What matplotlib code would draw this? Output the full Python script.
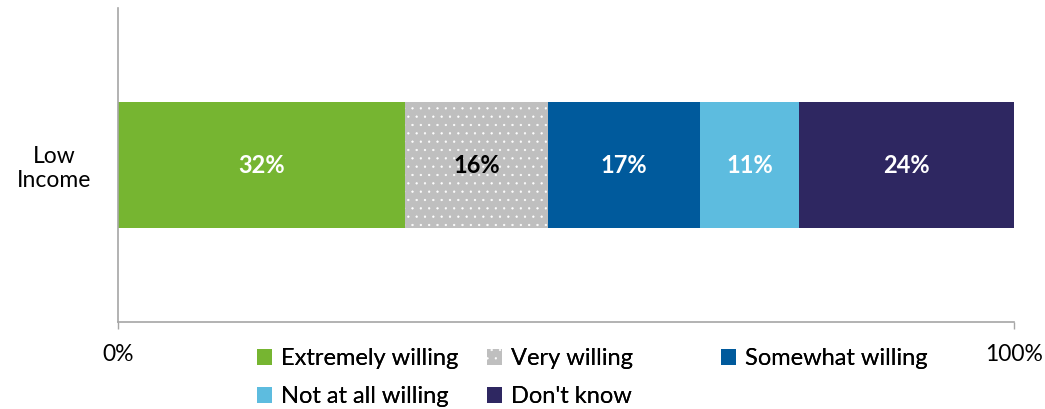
import numpy as np
import matplotlib
matplotlib.use("Agg")
import matplotlib.pyplot as plt
from matplotlib.patches import Patch

plt.rcParams['font.family'] = ['Lato', 'DejaVu Sans']
plt.rcParams['hatch.linewidth'] = 0.4

# survey answers for one income group
group = "Low\nIncome"
answers = ["Extremely willing", "Very willing", "Somewhat willing",
           "Not at all willing", "Don't know"]
shares = [32, 16, 17, 11, 24]
colors = ["#76B531", "#BFBFBF", "#005A9C", "#5DBCDF", "#2E2761"]
text_colors = ["white", "black", "white", "white", "white"]
hatches = [None, "..", None, None, None]
x_ticks = [0, 100]
x_tick_labels = ["0%", "100%"]

fig = plt.figure(figsize=(10.45, 4.09), dpi=100)
ax = fig.add_axes([0.1129, 0.2127, 0.8574, 0.7677])

left = 0
handles = []
for share, col, tcol, hat, name in zip(shares, colors, text_colors, hatches, answers):
    ax.barh(0, share, left=left, height=0.806, color=col,
            edgecolor="white" if hat else col, linewidth=0, hatch=hat)
    ax.text(left + share / 2, 0, f"{share}%", ha="center", va="center",
            color=tcol, fontsize=17, fontweight="bold")
    handles.append(Patch(facecolor=col, edgecolor="white" if hat else col,
                         linewidth=0, hatch=hat))
    left += share

ax.set_xlim(0, 100)
ax.set_ylim(-1, 1)
ax.set_xticks(x_ticks)
ax.set_xticklabels(x_tick_labels, fontsize=16.5)
ax.tick_params(axis="x", length=5, width=1, color="#A6A6A6", pad=11)
ax.set_yticks([0])
ax.set_yticklabels([group], fontsize=16.5, ha="center", linespacing=1.15)
ax.tick_params(axis="y", length=0, pad=46)

for side in ["top", "right"]:
    ax.spines[side].set_visible(False)
for side in ["left", "bottom"]:
    ax.spines[side].set_color("#A6A6A6")
    ax.spines[side].set_linewidth(1.2)

# legend laid out in three evenly spaced columns
columns = [[0, 3], [1, 4], [2]]
col_x = [0.246, 0.466, 0.690]
for idx, cx in zip(columns, col_x):
    leg = fig.legend([handles[i] for i in idx], [answers[i] for i in idx],
                     loc="upper left", bbox_to_anchor=(cx, 0.148),
                     frameon=False, fontsize=17, handlelength=0.65,
                     handleheight=0.65, handletextpad=0.35,
                     labelspacing=0.72, borderaxespad=0, borderpad=0)
    fig.add_artist(leg)

fig.savefig("out.png", dpi=100)
